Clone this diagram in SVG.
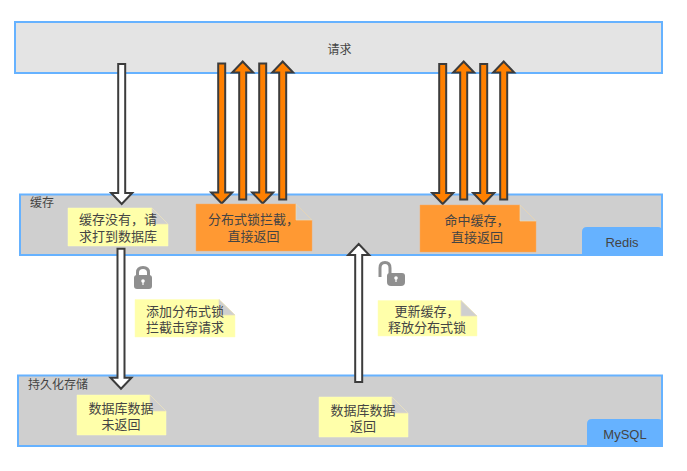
<svg xmlns="http://www.w3.org/2000/svg" width="687" height="471" viewBox="0 0 687 471">
<style>
text{font-family:"Liberation Sans","Noto Sans CJK SC",sans-serif;font-size:13px;fill:#444;text-anchor:middle}
.small{font-size:12px}
.layer{stroke:#66b2ff;stroke-width:2}
.tag{fill:#66b2ff}
.y{fill:#ffffaa;stroke:#ffffbb;stroke-width:.5}
.o{fill:#ff9933;stroke:#f5ab66;stroke-width:.5}
.fold{fill:#cfcfcf;stroke:#e6dcc0;stroke-width:.7}
.w{fill:#fff;stroke:#3c3c3c;stroke-width:2}
.a{fill:#ff8000;stroke:#3c3c3c;stroke-width:2}
.lock{fill:#8f8f8f}
</style>
<defs>
<path id="down" d="M-3.5 0H3.5V129H10.5L0 140L-10.5 129H-3.5Z"/>
<path id="up" d="M-3.5 138V11H-10.5L0 0L10.5 11H3.5V138Z"/>
</defs>
<g id="request"><rect class="layer" x="15" y="22" width="647" height="51" fill="#e4e4e4"/><text class="small" x="339.500" y="54">请求</text></g>
<g id="cache"><rect class="layer" x="20" y="194.500" width="642" height="60.500" fill="#cfcfcf"/><text class="small" x="42" y="207">缓存</text></g>
<g id="redis"><path class="tag" d="M587 227H658Q662 227 662 231V255.500H582V232Q582 227 587 227Z"/><text x="622" y="246.500">Redis</text></g>
<g id="storage"><rect class="layer" x="18" y="375.500" width="644" height="70.500" fill="#cfcfcf"/><text class="small" x="58" y="389">持久化存储</text></g>
<g id="mysql"><path class="tag" d="M592 419H658Q662.500 419 662.500 423V447H587V424Q587 419 592 419Z"/><text x="625" y="439">MySQL</text></g>
<g id="connectors">
<use href="#down" class="w" x="121.700" y="64"/>
<use href="#down" class="w" x="121" y="248.700"/>
<path class="w" d="M358.700 244L369.200 255H362.200V382H355.200V255H348.200Z"/>
<use href="#down" class="a" x="221.700" y="63.500"/>
<use href="#up" class="a" x="242.700" y="61.500"/>
<use href="#down" class="a" x="262.700" y="63.500"/>
<use href="#up" class="a" x="282.700" y="61.500"/>
<use href="#down" class="a" x="442.700" y="64"/>
<use href="#up" class="a" x="463.700" y="61.500"/>
<use href="#down" class="a" x="483.700" y="64"/>
<use href="#up" class="a" x="503.700" y="61.500"/>
</g>
<g id="note-miss"><path class="y" d="M68 208H152L168 224V246H68Z"/><path class="fold" d="M152 208L168 224H152Z"/><text y="224"><tspan x="118">缓存没有，请</tspan><tspan x="118" dy="17">求打到数据库</tspan></text></g>
<g id="note-lock-intercept"><path class="o" d="M196 204H296L312 220V251H196Z"/><path class="fold" d="M296 204L312 220H296Z"/><text y="224"><tspan x="253.500">分布式锁拦截，</tspan><tspan x="253.500" dy="17">直接返回</tspan></text></g>
<g id="note-hit"><path class="o" d="M420 205H520L536 221V252H420Z"/><path class="fold" d="M520 205L536 221H520Z"/><text y="225"><tspan x="477">命中缓存，</tspan><tspan x="477" dy="17">直接返回</tspan></text></g>
<g id="lock"><path class="lock" d="M134 278Q134 275 137 275H149Q152 275 152 278V286Q152 289 149 289H137Q134 289 134 286Z"/><path d="M137.500 276V272.500Q137.500 267.500 143 267.500Q148.500 267.500 148.500 272.500V276" fill="none" stroke="#8f8f8f" stroke-width="3"/><circle cx="143" cy="281" r="1.800" fill="#fff"/><rect x="142.400" y="281" width="1.200" height="4" fill="#fff"/></g>
<g id="unlock"><path class="lock" d="M387 276Q387 273 390 273H402Q405 273 405 276V282Q405 286 401 286H391Q387 286 387 282Z"/><path d="M380 277V268Q380 262.500 385 262.500Q390 262.500 390 268V274" fill="none" stroke="#8f8f8f" stroke-width="3"/><circle cx="396" cy="278" r="1.800" fill="#fff"/><rect x="395.400" y="278" width="1.200" height="4" fill="#fff"/></g>
<g id="note-add-lock"><path class="y" d="M135 299.500H219L235 315V337H135Z"/><path class="fold" d="M219 299.500L235 315H219Z"/><text y="316"><tspan x="185">添加分布式锁</tspan><tspan x="185" dy="16">拦截击穿请求</tspan></text></g>
<g id="note-release"><path class="y" d="M378 300.500H461L477 316V336H378Z"/><path class="fold" d="M461 300.500L477 316H461Z"/><text y="316"><tspan x="427">更新缓存，</tspan><tspan x="427" dy="16">释放分布式锁</tspan></text></g>
<g id="note-db-pending"><path class="y" d="M77 395H150L166 411V435H77Z"/><path class="fold" d="M150 395L166 411H150Z"/><text y="413"><tspan x="121">数据库数据</tspan><tspan x="121" dy="16">未返回</tspan></text></g>
<g id="note-db-return"><path class="y" d="M319 397H392L408 413V437H319Z"/><path class="fold" d="M392 397L408 413H392Z"/><text y="415"><tspan x="363">数据库数据</tspan><tspan x="363" dy="16">返回</tspan></text></g>
</svg>
